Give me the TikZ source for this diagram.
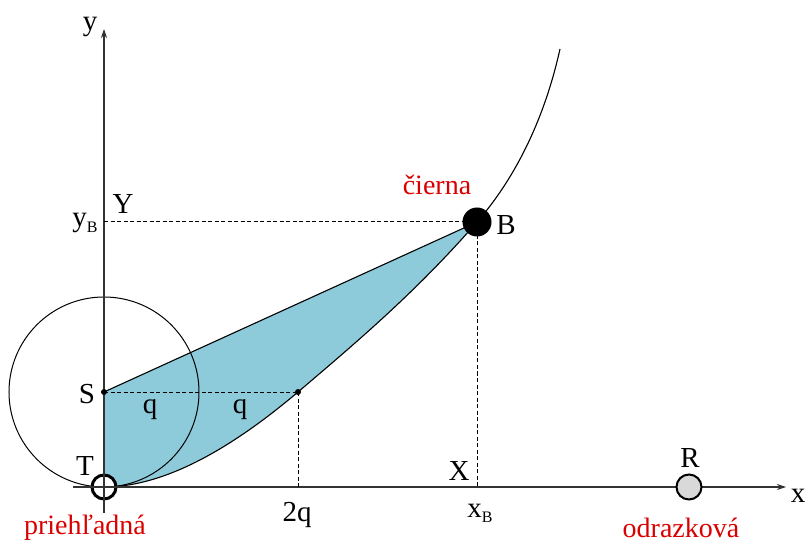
\documentclass[tikz,border=0pt]{standalone}
\usepackage{fontspec}
\setmainfont{Liberation Serif}
\usetikzlibrary{arrows.meta}
\definecolor{fillblue}{RGB}{141,203,218}
\definecolor{lblred}{RGB}{218,0,0}
\begin{document}
\begin{tikzpicture}[x=1pt,y=-1pt,
  lbl/.style={font=\fontsize{29}{31}\selectfont, anchor=base, inner sep=0pt},
  rlbl/.style={font=\fontsize{28}{30}\selectfont, anchor=base, inner sep=0pt, text=lblred},
  dsh/.style={dash pattern=on 4pt off 2.5pt, line width=1pt},
  axisline/.style={line width=1.2pt, black!80, -{Stealth[length=9pt,width=6pt]}},
  curveline/.style={line width=1.1pt},
  dotpt/.style={circle, fill=black, inner sep=0pt, minimum size=6pt},
]
\useasboundingbox (0,0) rectangle (806,545);
% key points
\coordinate (T) at (104,487);
\coordinate (S) at (104,392);
\coordinate (P) at (298,392);
\coordinate (B) at (477,222);
\coordinate (E) at (560,49);
\coordinate (YB) at (104,222);
\coordinate (XB) at (477,487);
\coordinate (Q2) at (298,487);
\coordinate (R) at (689,487);
\coordinate (xs) at (73,487);
\coordinate (xe) at (786,487);
\coordinate (ys) at (104,513);
\coordinate (ye) at (104,29);
% shaded region
\fill[fillblue] (S) -- (B)
  .. controls (417,291) and (358,341) .. (P)
  .. controls (223.3,455.3) and (158.7,487) .. (T) -- cycle;
% curve
\draw[curveline] (T) .. controls (158.7,487) and (223.3,455.3) .. (P)
  .. controls (358,341) and (417,291) .. (B)
  .. controls (517,176) and (545,116.5) .. (E);
\draw[curveline] (S) -- (B);
% circle around S
\draw[line width=1pt] (S) circle[radius=95];
% T marker
\node[circle, draw=black, fill=white, line width=3pt, minimum size=24pt, inner sep=0pt] (Tc) at (T) {};
% axes
\draw[axisline] (xs) -- (xe);
\draw[axisline] (ys) -- (ye);
% dashed lines
\draw[dsh] (YB) -- (B);
\draw[dsh] (B) -- (XB);
\draw[dsh] (S) -- (P);
\draw[dsh] (P) -- (Q2);
% points
\node[dotpt] (Sd) at (S) {};
\node[dotpt] (Pd) at (P) {};
\node[circle, fill=black, inner sep=0pt, minimum size=29pt] (Bd) at (B) {};
\node[circle, draw=black, fill=gray!30, line width=2pt, inner sep=0pt, minimum size=25pt] (Rd) at (R) {};
% labels
\node[lbl] (ylab) at (90,31) {y};
\node[lbl] (xlab) at (798,502) {x};
\node[lbl] (Ylab) at (123,214) {Y};
\node[lbl] (yBlab) at (85,227) {y\raisebox{-6pt}{\fontsize{16}{16}\selectfont B}};
\node[lbl] (Slab) at (87,403) {S};
\node[lbl] (q1lab) at (150,413) {q};
\node[lbl] (q2lab) at (240,413) {q};
\node[lbl] (Tlab) at (85,475) {T};
\node[lbl] (twoq) at (297,521) {2q};
\node[lbl] (Blab) at (506,235) {B};
\node[lbl] (Xlab) at (459,480) {X};
\node[lbl] (xBlab) at (480,517) {x\raisebox{-5pt}{\fontsize{16}{16}\selectfont B}};
\node[lbl] (Rlab) at (690,467) {R};
\node[rlbl] (cierna) at (437,195) {čierna};
\node[rlbl] (prieh) at (85,534) {priehľadná};
\node[rlbl] (odraz) at (681,537) {odrazková};
\end{tikzpicture}
\end{document}
